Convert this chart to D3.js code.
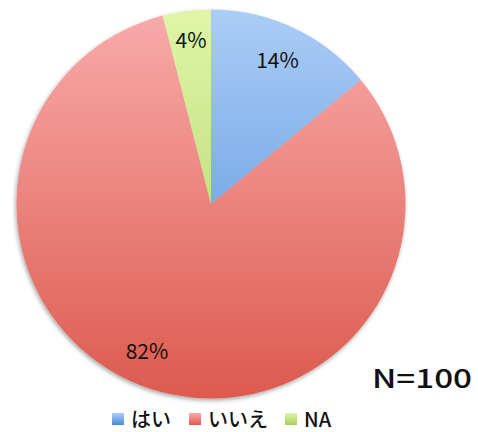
<!DOCTYPE html>
<html><head><meta charset="utf-8">
<script src="https://cdn.jsdelivr.net/npm/d3@7"></script>
<style>body{margin:0;background:#fff}svg{display:block}</style>
</head><body>
<svg id="chart" width="478" height="432"></svg>
<script>
const categories = ["はい", "いいえ", "NA"];
const values = [14, 82, 4];
const labels = ["14%", "82%", "4%"];
const topColors = ["#abcdf7", "#f9abab", "#e0f5a8"];
const bottomColors = ["#4a8ad6", "#dc5a4e", "#a8cf60"];
const note = "N=100";

const svg = d3.select("#chart");
const cx = 211, cy = 204, r = 194.5;
const font = "'Noto Sans CJK JP', 'Open Sans', sans-serif";

const defs = svg.append("defs");
categories.forEach((c, i) => {
  // slice fill: vertical gradient across the whole pie
  const g = defs.append("linearGradient").attr("id", "g" + i)
    .attr("gradientUnits", "userSpaceOnUse")
    .attr("x1", 0).attr("y1", -r).attr("x2", 0).attr("y2", r);
  g.append("stop").attr("offset", 0).attr("stop-color", topColors[i]);
  g.append("stop").attr("offset", 1).attr("stop-color", bottomColors[i]);
  // legend swatch fill
  const lg = defs.append("linearGradient").attr("id", "l" + i)
    .attr("x1", 0).attr("y1", 0).attr("x2", 0).attr("y2", 1);
  lg.append("stop").attr("offset", 0).attr("stop-color", topColors[i]);
  lg.append("stop").attr("offset", 1).attr("stop-color", bottomColors[i]);
});
const f = defs.append("filter").attr("id", "sh").attr("x", "-10%").attr("y", "-10%").attr("width", "120%").attr("height", "120%");
f.append("feDropShadow").attr("dx", -1).attr("dy", 2).attr("stdDeviation", 2).attr("flood-color", "#000").attr("flood-opacity", 0.35);

const pie = d3.pie().sort(null).value(d => d)(values);
const arc = d3.arc().innerRadius(0).outerRadius(r);
const g = svg.append("g").attr("transform", `translate(${cx},${cy})`);
g.append("g").attr("filter", "url(#sh)")
  .selectAll("path").data(pie).join("path")
  .attr("d", arc)
  .attr("fill", (d, i) => `url(#g${i})`);

// data labels, offsets from the pie centre
const labelPos = [[66.5, -145.5], [-64, 146], [-20, -165]];
g.selectAll("text.lab").data(pie).join("text").attr("class", "lab")
  .attr("x", (d, i) => labelPos[i][0]).attr("y", (d, i) => labelPos[i][1])
  .attr("text-anchor", "middle").attr("dominant-baseline", "central")
  .attr("font-family", font).attr("font-size", 21).attr("fill", "#111")
  .text((d, i) => labels[i]);

// sample size note, set in a wide face
svg.append("text").attr("x", 372).attr("y", 376)
  .attr("dominant-baseline", "central")
  .attr("textLength", 100).attr("lengthAdjust", "spacingAndGlyphs")
  .attr("font-family", font).attr("font-size", 26).attr("font-weight", 500).attr("fill", "#111")
  .text(note);

const legendX = [112, 189, 285];
const lg = svg.append("g");
categories.forEach((c, i) => {
  lg.append("rect").attr("x", legendX[i]).attr("y", 413).attr("width", 12).attr("height", 12)
    .attr("fill", `url(#l${i})`);
  lg.append("text").attr("x", legendX[i] + 19).attr("y", 418)
    .attr("dominant-baseline", "central")
    .attr("font-family", font).attr("font-size", 20).attr("font-weight", 500).attr("fill", "#111").text(c);
});
</script>
</body></html>
